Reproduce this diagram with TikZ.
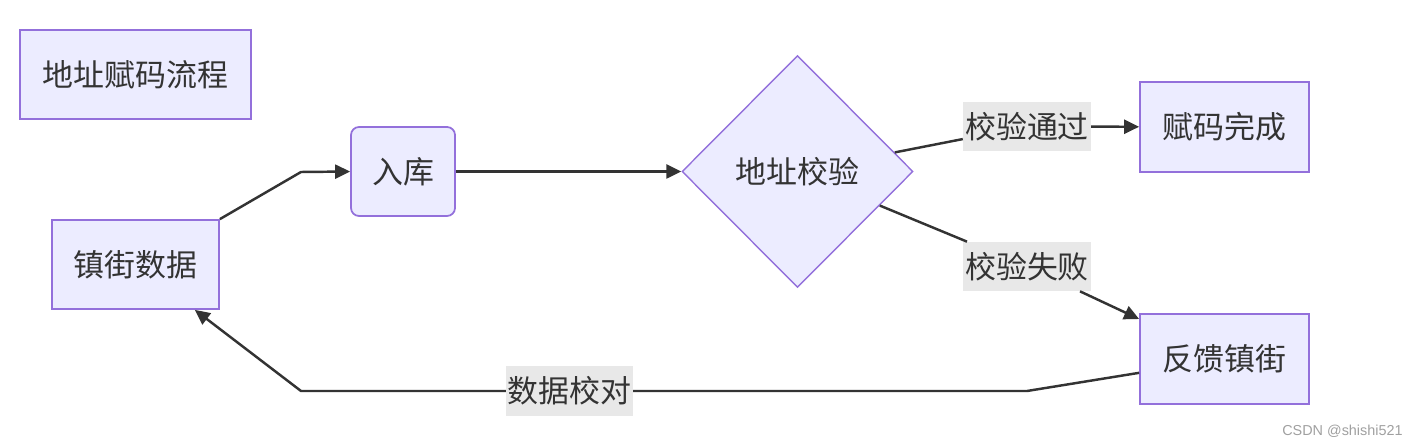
\documentclass[tikz,border=0pt]{standalone}
\usepackage{fontspec}
\usepackage{tikz}
\usetikzlibrary{arrows.meta,shapes.geometric}
\newfontfamily\cjk{Noto Sans CJK SC}
\newfontfamily\markfont{Liberation Sans}
\definecolor{FlowFill}{HTML}{ECECFF}
\definecolor{FlowBorder}{HTML}{9370DB}
\definecolor{FlowLine}{HTML}{333333}
\definecolor{FlowLabel}{HTML}{E8E8E8}
\definecolor{FlowMark}{HTML}{A0A0A0}
\tikzset{
  >={Triangle[length=3mm,width=2.8mm]},
  procbox/.style={draw=FlowBorder,line width=1pt,fill=FlowFill,text=FlowLine,
    minimum height=17.8mm,inner sep=0pt,font={\cjk\fontsize{17.6}{21}\selectfont}},
  roundbox/.style={procbox,rounded corners=1.6mm},
  decision/.style={diamond,aspect=1,draw=FlowBorder,line width=0.8pt,fill=FlowFill,
    text=FlowLine,inner sep=0pt,minimum width=46.2mm,minimum height=46.4mm,
    font={\cjk\fontsize{17.6}{21}\selectfont}},
  edgelabel/.style={fill=FlowLabel,text=FlowLine,inner xsep=0.4mm,inner ysep=0pt,
    minimum height=9.8mm,font={\cjk\fontsize{17.6}{21}\selectfont}},
  link/.style={line width=1.4pt,draw=FlowLine},
  flow/.style={link,->},
  watermark/.style={text=FlowMark,inner sep=0pt,font={\markfont\fontsize{8.2}{10}\selectfont}}
}

\begin{document}
\begin{tikzpicture}[x=0.2mm,y=-0.2mm]
  \useasboundingbox (0,0) rectangle (1419,447);

  \node[procbox,minimum width=46.2mm] (title) at (135.5,74.5) {地址赋码流程};
  \node[procbox,minimum width=33.4mm] (data) at (135.5,264.5) {镇街数据};
  \node[roundbox,minimum width=20.8mm] (store) at (403,171.5) {入库};
  \node[decision] (check) at (797.5,171.5) {地址校验};
  \node[procbox,minimum width=33.8mm,minimum height=18mm] (done) at (1224.5,127) {赋码完成};
  \node[procbox,minimum width=33.8mm,minimum height=18mm] (feedback) at (1224.5,359) {反馈镇街};

  \node[edgelabel] (passlbl) at (1027,126.5) {校验通过};
  \node[edgelabel] (faillbl) at (1027,266.5) {校验失败};

  \coordinate (b1) at (301,172);
  \coordinate (b2) at (1027,391);
  \coordinate (b3) at (301,391);

  \draw[flow] (data.north east) -- (b1) -- (store.west);
  \draw[flow] (store) -- (check);
  \draw[link] (check) -- (passlbl);
  \draw[flow] (passlbl) -- (done);
  \draw[link] (check) -- (faillbl);
  \draw[flow] (faillbl) -- (feedback);
  \draw[flow] (feedback) -- (b2) -- node[edgelabel,pos=0.63] (backlbl) {数据校对} (b3) -- (data);

  \node[watermark,anchor=east] (mark) at (1403,431) {CSDN @shishi521};
\end{tikzpicture}
\end{document}
